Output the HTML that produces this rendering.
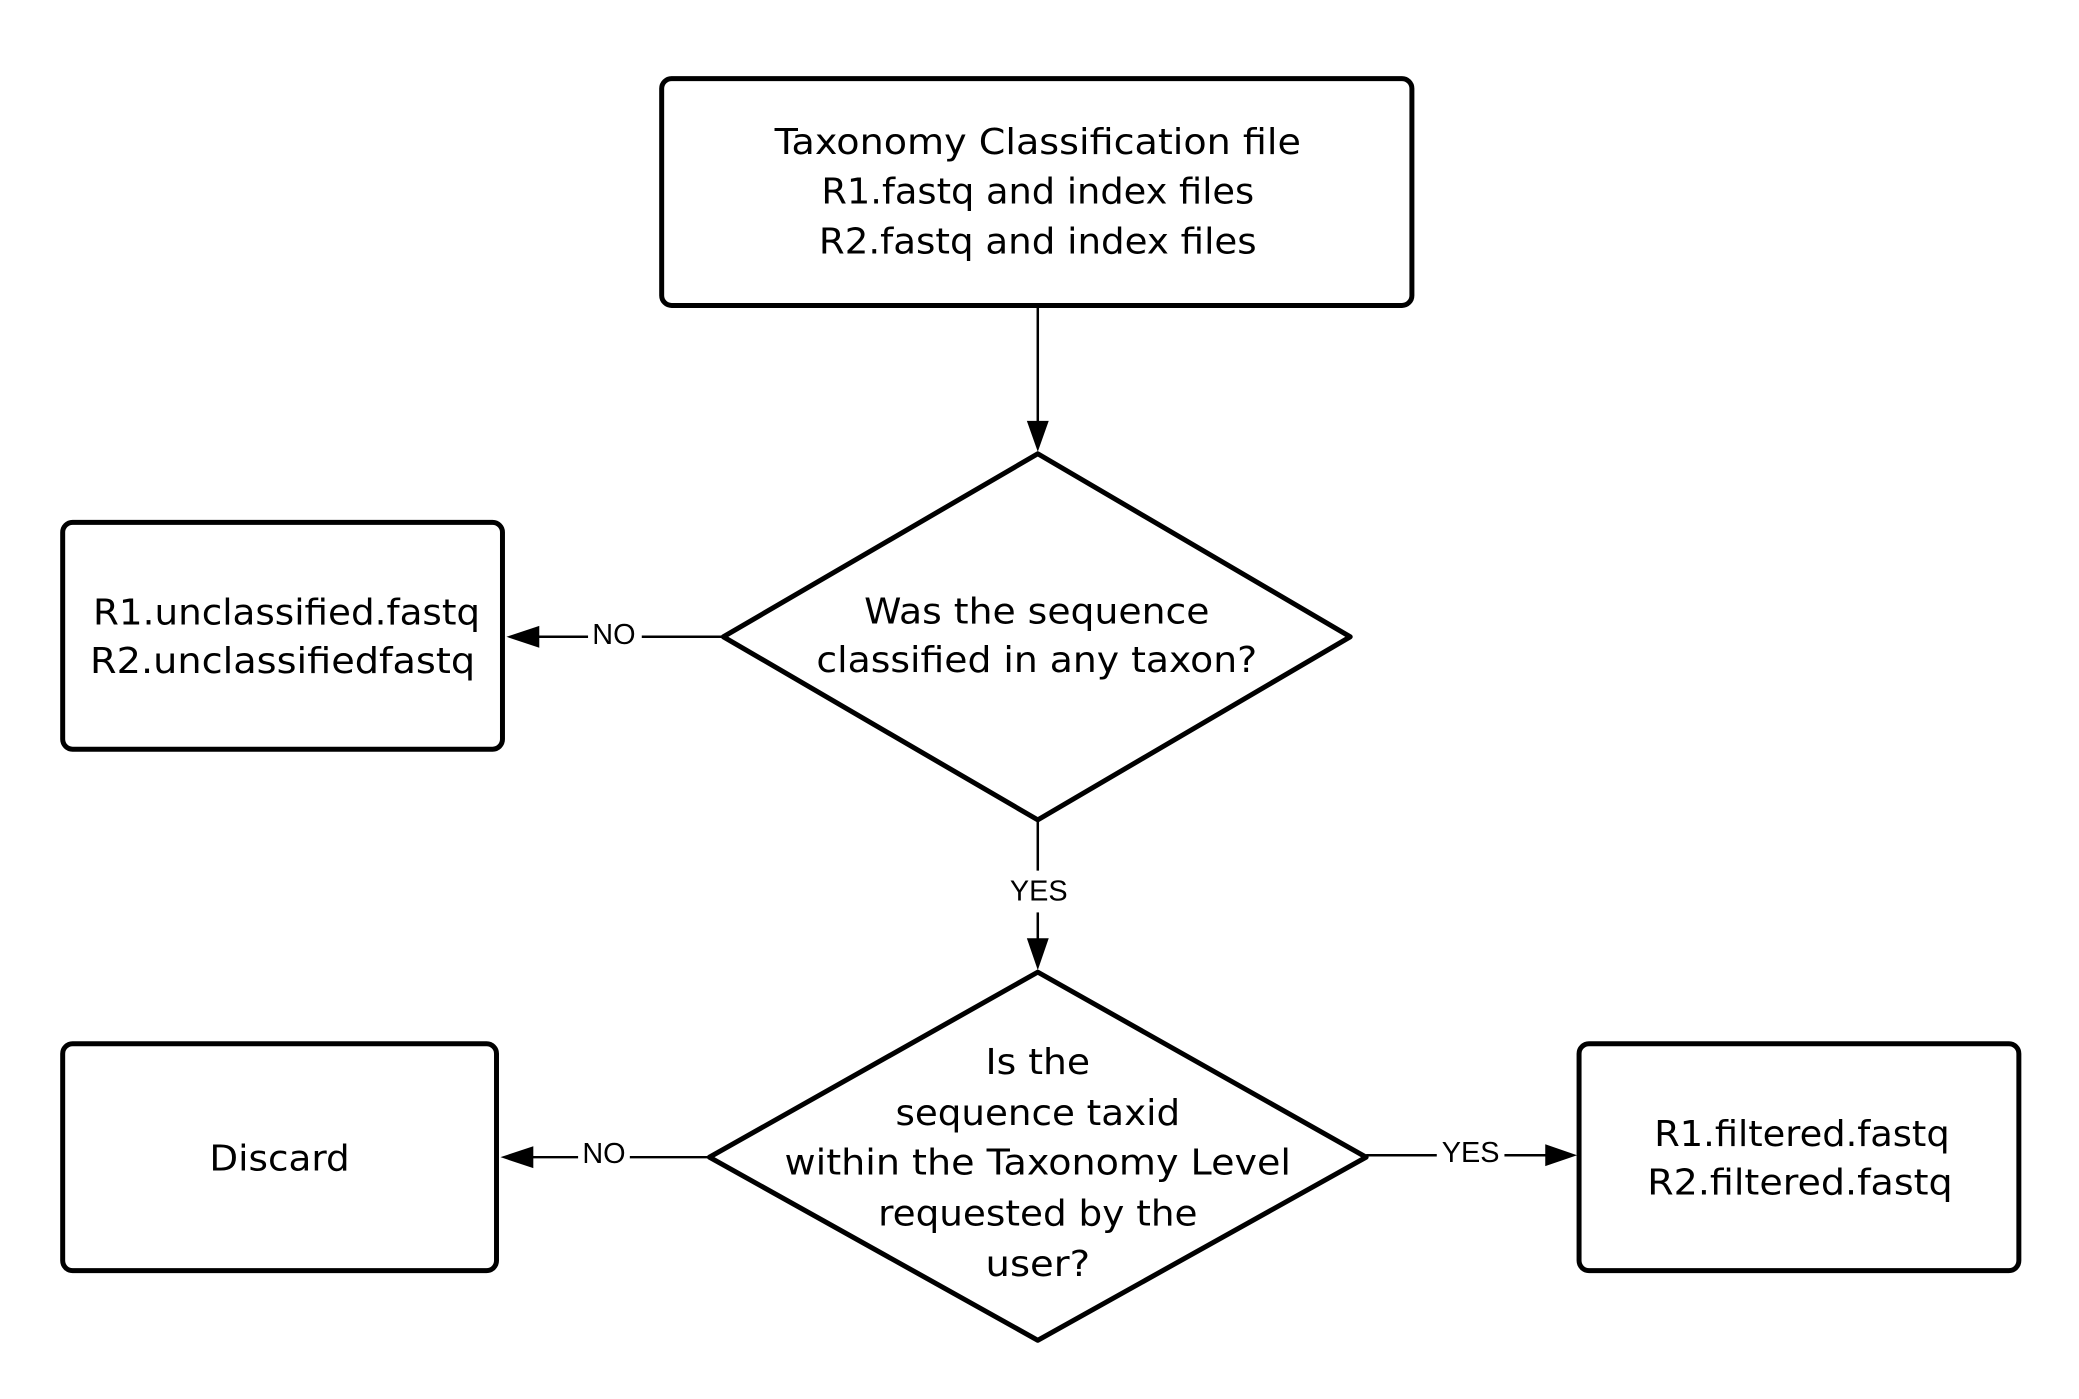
<!DOCTYPE html>
<html><head><meta charset="utf-8"><style>html,body{margin:0;padding:0;background:#fff}svg{display:block}</style></head>
<body>
<svg width="2079" height="1399" viewBox="0 0 2079 1399" xmlns="http://www.w3.org/2000/svg">
<g transform="scale(0.995,0.995)">
<g fill="#fff" stroke="#000" stroke-width="5" stroke-linejoin="round">
<rect x="665" y="79" width="754" height="228" rx="10"/>
<rect x="63" y="525" width="442" height="228" rx="10"/>
<rect x="63" y="1049" width="436" height="228" rx="10"/>
<rect x="1587" y="1049" width="442" height="228" rx="10"/>
<path d="M1043,456 L1357,640 L1043,824 L727,640 Z"/>
<path d="M1043,977 L1373,1163 L1043,1347 L713,1163 Z"/>
</g>
<g stroke="#000" stroke-width="2.5" fill="none">
<line x1="1043" y1="309" x2="1043" y2="425"/>
<line x1="727" y1="640" x2="645" y2="640"/><line x1="591" y1="640" x2="540" y2="640"/>
<line x1="1043" y1="826" x2="1043" y2="875"/><line x1="1043" y1="917" x2="1043" y2="945"/>
<line x1="713" y1="1163" x2="633" y2="1163"/><line x1="581" y1="1163" x2="534" y2="1163"/>
<line x1="1373" y1="1161" x2="1444" y2="1161"/><line x1="1512" y1="1161" x2="1555" y2="1161"/>
</g>
<g fill="#000">
<path d="M1032,423 L1054,423 L1043,454 Z"/>
<path d="M542,629 L542,651 L509,640 Z"/>
<path d="M1032,943 L1054,943 L1043,975 Z"/>
<path d="M536,1152 L536,1174 L503,1163 Z"/>
<path d="M1553,1150 L1553,1172 L1585,1161 Z"/>
</g>
<g font-family="Liberation Sans, Arial, sans-serif" font-size="29" text-anchor="middle" dominant-baseline="central">
<text x="617" y="638">NO</text>
<text x="1044" y="896">YES</text>
<text x="607" y="1160">NO</text>
<text x="1478" y="1159">YES</text>
</g>
<g font-family="DejaVu Sans, Liberation Sans, sans-serif" font-size="36" text-anchor="middle" dominant-baseline="central">
<text x="1043" y="143" textLength="529" lengthAdjust="spacingAndGlyphs">Taxonomy Classification file</text>
<text x="1043" y="193" textLength="435" lengthAdjust="spacingAndGlyphs">R1.fastq and index files</text>
<text x="1043" y="243" textLength="440" lengthAdjust="spacingAndGlyphs">R2.fastq and index files</text>
<text x="1042" y="615" textLength="347" lengthAdjust="spacingAndGlyphs">Was the sequence</text>
<text x="1042" y="664" textLength="443" lengthAdjust="spacingAndGlyphs">classified in any taxon?</text>
<text x="288" y="616" textLength="389" lengthAdjust="spacingAndGlyphs">R1.unclassified.fastq</text>
<text x="284" y="665" textLength="387" lengthAdjust="spacingAndGlyphs">R2.unclassifiedfastq</text>
<text x="1043" y="1068" textLength="105" lengthAdjust="spacingAndGlyphs">Is the</text>
<text x="1043" y="1119" textLength="286" lengthAdjust="spacingAndGlyphs">sequence taxid</text>
<text x="1043" y="1169" textLength="509" lengthAdjust="spacingAndGlyphs">within the Taxonomy Level</text>
<text x="1043" y="1220" textLength="321" lengthAdjust="spacingAndGlyphs">requested by the</text>
<text x="1043" y="1271" textLength="105" lengthAdjust="spacingAndGlyphs">user?</text>
<text x="281" y="1165" textLength="141" lengthAdjust="spacingAndGlyphs">Discard</text>
<text x="1811" y="1140" textLength="297" lengthAdjust="spacingAndGlyphs">R1.filtered.fastq</text>
<text x="1809" y="1189" textLength="307" lengthAdjust="spacingAndGlyphs">R2.filtered.fastq</text>
</g>
</g>
</svg>
</body></html>
